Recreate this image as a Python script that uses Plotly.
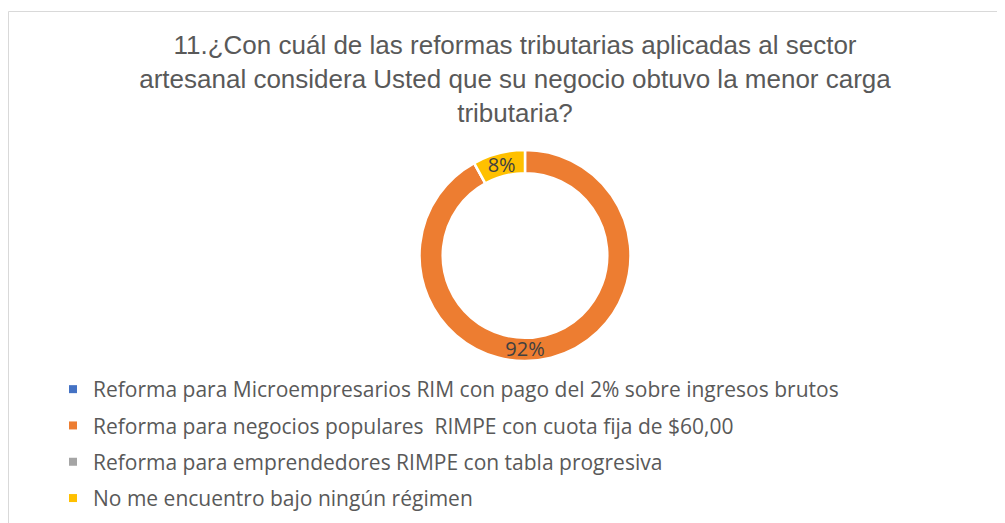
import plotly.graph_objects as go

categories = [
    "Reforma para Microempresarios RIM con pago del 2% sobre ingresos brutos",
    "Reforma para negocios populares  RIMPE con cuota fija de $60,00",
    "Reforma para emprendedores RIMPE con tabla progresiva",
    "No me encuentro bajo ningún régimen",
]
values = [0, 92, 0, 8]
colors = ["#4472C4", "#ED7D31", "#A5A5A5", "#FFC000"]
title_lines = [
    "11.¿Con cuál de las reformas tributarias aplicadas al sector",
    "artesanal considera Usted que su negocio obtuvo la menor carga",
    "tributaria?",
]

total = sum(values)
labels_text = [f"{v / total:.0%}" if v else "" for v in values]

# figure size (page body adds an 8px margin)
W, H = 997, 515

fig = go.Figure()
fig.add_trace(go.Pie(
    labels=categories,
    values=values,
    text=labels_text,
    textinfo="text",
    textposition="inside",
    insidetextorientation="horizontal",
    textfont=dict(family="Open Sans", size=20, color="#404040"),
    marker=dict(colors=colors, line=dict(color="white", width=2.5)),
    hole=0.78,
    sort=False,
    direction="clockwise",
    rotation=0,
    domain=dict(x=[411.5 / W, 622.5 / W], y=[162 / H, 373 / H]),
    showlegend=False,
    hoverinfo="label+percent",
))

# legend entries (one per category)
for i, (name, col) in enumerate(zip(categories, colors)):
    fig.add_trace(go.Scatter(
        x=[None], y=[None], mode="markers",
        marker=dict(symbol="square", size=8, color=col),
        name=name, legendgroup=f"g{i}", showlegend=True,
        hoverinfo="skip",
    ))

fig.update_layout(
    width=W, height=H,
    margin=dict(l=0, r=0, t=0, b=0),
    paper_bgcolor="white",
    plot_bgcolor="white",
    xaxis=dict(visible=False),
    yaxis=dict(visible=False),
    title=dict(
        text="<br>".join(title_lines),
        x=507 / W, xanchor="center",
        y=1 - 46 / H, yanchor="top",
        font=dict(family="Liberation Sans", size=26, color="#595959"),
    ),
    legend=dict(
        x=45 / W, xanchor="left",
        y=1 - 361 / H, yanchor="top",
        font=dict(family="Open Sans", size=21, color="#595959"),
        bgcolor="rgba(0,0,0,0)",
        traceorder="grouped",
        tracegroupgap=6,
        itemwidth=30,
    ),
    uniformtext=dict(minsize=20, mode="show"),
    shapes=[dict(
        type="rect", xref="paper", yref="paper",
        x0=0.5 / W, x1=1.05, y0=-0.05, y1=1 - 3.5 / H,
        line=dict(color="#D9D9D9", width=1),
        fillcolor="rgba(0,0,0,0)", layer="below",
    )],
)

fig.write_html("out.html")
